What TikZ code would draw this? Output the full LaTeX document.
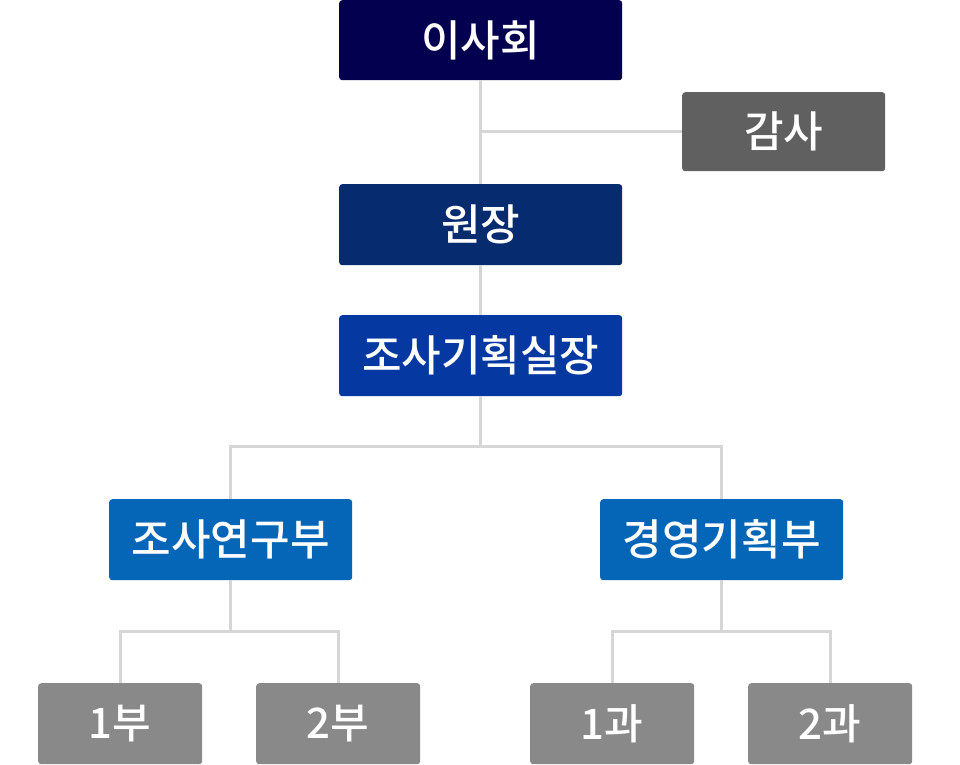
\documentclass[tikz,border=0pt]{standalone}
\usepackage{fontspec}
\usetikzlibrary{calc}
\setmainfont{Noto Sans CJK KR}
\newfontfamily\krb{Noto Sans CJK KR Medium}
\newfontfamily\krm{Noto Sans CJK KR Medium}
\definecolor{c1}{HTML}{03004F}
\definecolor{c2}{HTML}{072B6F}
\definecolor{c3}{HTML}{0538A0}
\definecolor{c4}{HTML}{0566B8}
\definecolor{cg1}{HTML}{606060}
\definecolor{cg2}{HTML}{898989}
\definecolor{cl}{HTML}{D6D6D6}
\begin{document}
\begin{tikzpicture}[x=1pt,y=-1pt,
  box/.style={rounded corners=3pt, text=white, inner sep=0pt, anchor=north west,
    font=\krb\fontsize{43}{45}\selectfont},
  small/.style={box, font=\krm\fontsize{42}{44}\selectfont},
  conn/.style={draw=cl, line width=2.6pt}]
\useasboundingbox (0,0) rectangle (960,764);
\node[box, fill=c1, minimum width=283pt, minimum height=80pt] (ish) at (339,0) {이사회};
\node[box, fill=cg1, minimum width=203pt, minimum height=79pt] (gam) at (682,92) {감사};
\node[box, fill=c2, minimum width=283pt, minimum height=81pt] (won) at (339,184) {원장};
\node[box, fill=c3, minimum width=283pt, minimum height=81pt] (jos) at (339,315) {조사기획실장};
\node[box, fill=c4, minimum width=243pt, minimum height=81pt] (yeon) at (109,499) {조사연구부};
\node[box, fill=c4, minimum width=243pt, minimum height=81pt] (gyeong) at (600,499) {경영기획부};
\node[small, fill=cg2, minimum width=164pt, minimum height=81pt] (b1) at (38,683) {1부};
\node[small, fill=cg2, minimum width=164pt, minimum height=81pt] (b2) at (256,683) {2부};
\node[small, fill=cg2, minimum width=164pt, minimum height=81pt] (k1) at (530,683) {1과};
\node[small, fill=cg2, minimum width=164pt, minimum height=81pt] (k2) at (748,683) {2과};
\coordinate (j1) at ($(ish.south)+(0,51)$);
\coordinate (j2) at ($(jos.south)+(0,50)$);
\coordinate (j3) at ($(yeon.south)+(0,51)$);
\coordinate (j4) at ($(gyeong.south)+(0,51)$);
\draw[conn] (ish.south) -- (won.north);
\draw[conn] (j1) -- (j1 -| gam.west);
\draw[conn] (won.south) -- (jos.north);
\draw[conn] (jos.south) -- (j2);
\draw[conn] (yeon.north) |- (j2) -| (gyeong.north);
\draw[conn] (yeon.south) -- (j3);
\draw[conn] (b1.north) |- (j3) -| (b2.north);
\draw[conn] (gyeong.south) -- (j4);
\draw[conn] (k1.north) |- (j4) -| (k2.north);
\end{tikzpicture}
\end{document}
